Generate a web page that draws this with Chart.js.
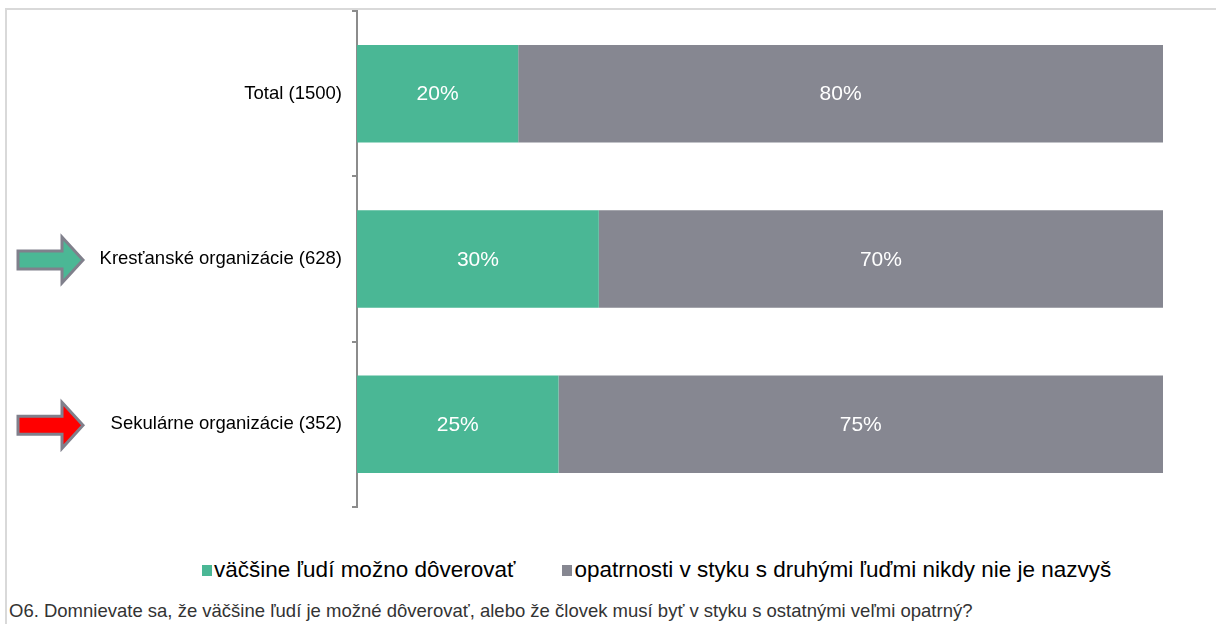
<!DOCTYPE html>
<html>
<head>
<meta charset="utf-8">
<script src="https://cdn.jsdelivr.net/npm/chart.js@4"></script>
<style>
  body { margin: 0; background: #fff; }
  #wrap { position: relative; width: 1216px; height: 624px; overflow: hidden; font-family: "Liberation Sans", Arial, sans-serif; }
  #frame { position: absolute; left: 5px; top: 8px; right: 0; bottom: -5px; border-top: 2px solid #d9d9d9; border-left: 2px solid #d9d9d9; }
  #chartBox { position: absolute; left: 0; top: 0; width: 1216px; height: 520px; }
  #legend { position: absolute; left: 202px; top: 557px; display: flex; align-items: center; font-size: 22.5px; line-height: 26px; color: #000; white-space: nowrap; }
  #legend .item { display: flex; align-items: center; margin-right: 47px; }
  #legend .box { width: 10px; height: 11px; margin-right: 2px; }
  #note { position: absolute; left: 9px; top: 600px; font-size: 18.5px; color: #333; white-space: nowrap; }
</style>
</head>
<body>
<div id="wrap">
  <div id="frame"></div>
  <div id="chartBox"><canvas id="myChart"></canvas></div>
  <div id="legend"></div>
  <div id="note">O6. Domnievate sa, že väčšine ľudí je možné dôverovať, alebo že človek musí byť v styku s ostatnými veľmi opatrný?</div>
</div>
<script>
// Data
const categories = ['Total (1500)', 'Kresťanské organizácie (628)', 'Sekulárne organizácie (352)'];
const trustValues = [20, 30, 25];
const cautionValues = [80, 70, 75];
const seriesNames = ['väčšine ľudí možno dôverovať', 'opatrnosti v styku s druhými ľuďmi nikdy nie je nazvyš'];

// white % labels in the middle of each bar piece
const barLabels = {
    id: 'barLabels',
    afterDatasetsDraw(chart) {
        const ctx = chart.ctx;
        ctx.save();
        ctx.fillStyle = '#fff';
        ctx.font = '21px "Liberation Sans", Arial, sans-serif';
        ctx.textAlign = 'center';
        ctx.textBaseline = 'middle';
        chart.data.datasets.forEach((ds, i) => {
            chart.getDatasetMeta(i).data.forEach((bar, j) => {
                const x = (bar.x + bar.base) / 2;
                ctx.fillText(ds.data[j] + '%', x, bar.y + 1);
            });
        });
        ctx.restore();
    }
};

// block arrows pointing at two of the rows
const rowArrows = {
    id: 'rowArrows',
    afterDraw(chart) {
        const ctx = chart.ctx;
        const y = chart.scales.y;
        const marks = [[1, '#4bb795'], [2, '#ff0000']];
        marks.forEach(([idx, fill]) => {
            const cy = y.getPixelForValue(idx) + 1;
            ctx.save();
            ctx.beginPath();
            ctx.moveTo(18, cy - 9);
            ctx.lineTo(62, cy - 9);
            ctx.lineTo(62, cy - 23);
            ctx.lineTo(83, cy);
            ctx.lineTo(62, cy + 23);
            ctx.lineTo(62, cy + 9);
            ctx.lineTo(18, cy + 9);
            ctx.closePath();
            ctx.fillStyle = fill;
            ctx.fill();
            ctx.lineWidth = 3;
            ctx.strokeStyle = '#80808c';
            ctx.lineJoin = 'miter';
            ctx.stroke();
            ctx.restore();
        });
    }
};

const ctx = document.getElementById('myChart').getContext('2d');
const myChart = new Chart(ctx, {
    type: 'bar',
    data: {
        labels: categories,
        datasets: [{
            label: seriesNames[0],
            data: trustValues,
            backgroundColor: '#4ab795'
        }, {
            label: seriesNames[1],
            data: cautionValues,
            backgroundColor: '#868791'
        }]
    },
    options: {
        indexAxis: 'y',
        responsive: true,
        maintainAspectRatio: false,
        animation: false,
        barPercentage: 0.59,
        categoryPercentage: 1,
        layout: { padding: { top: 11, bottom: 13, left: 0, right: 53 } },
        scales: {
            x: {
                display: false,
                stacked: true,
                min: 0,
                max: 100
            },
            y: {
                stacked: true,
                afterFit(scale) {
                    scale.width = 357;
                    scale.paddingTop = 0;
                    scale.paddingBottom = 0;
                },
                grid: {
                    offset: true,
                    drawOnChartArea: false,
                    tickLength: 5,
                    color: '#8c8c8c',
                    lineWidth: 2
                },
                border: { color: '#8c8c8c', width: 2 },
                ticks: {
                    padding: 10,
                    color: '#000',
                    font: { size: 18.5, family: '"Liberation Sans", Arial, sans-serif' }
                }
            }
        },
        plugins: {
            legend: { display: false },
            tooltip: { enabled: false }
        }
    },
    plugins: [barLabels, rowArrows]
});

// legend built from the chart's datasets
const legendDiv = document.getElementById('legend');
myChart.data.datasets.forEach(ds => {
    const item = document.createElement('div');
    item.className = 'item';
    const box = document.createElement('span');
    box.className = 'box';
    box.style.background = ds.backgroundColor;
    const text = document.createElement('span');
    text.textContent = ds.label;
    item.appendChild(box);
    item.appendChild(text);
    legendDiv.appendChild(item);
});
</script>
</body>
</html>
